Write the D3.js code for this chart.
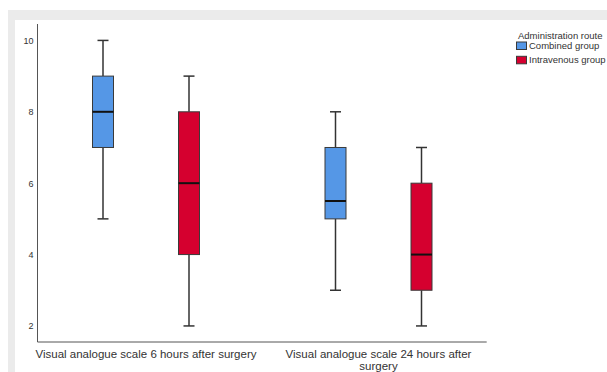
<!DOCTYPE html>
<html>
<head>
<meta charset="utf-8">
<script src="https://cdn.jsdelivr.net/npm/d3@7"></script>
<style>
  html, body { margin: 0; padding: 0; background: #fff; }
  svg { display: block; font-family: "Liberation Sans", Arial, sans-serif; }
</style>
</head>
<body>
<svg id="chart" width="607" height="372"></svg>
<script>
// Pain scores by time point and administration route (box-plot summaries)
const categories = ["Visual analogue scale 6 hours after surgery", "Visual analogue scale 24 hours after surgery"];
const groups = ["Combined group", "Intravenous group"];
const groupColors = ["#5597e6", "#d5002f"];
// [min, Q1, median, Q3, max] per category for each group
const combinedStats = [[5, 7, 8, 9, 10], [3, 5, 5.5, 7, 8]];
const intravenousStats = [[2, 4, 6, 8, 9], [2, 3, 4, 6, 7]];
const yTicks = [2, 4, 6, 8, 10];
const legendTitle = "Administration route";

const svg = d3.select("#chart");
const W = 607, H = 372;

// Outer frame
svg.append("rect").attr("x", 8).attr("y", 10).attr("width", W - 8).attr("height", H - 10).attr("fill", "#ebebeb");
svg.append("rect").attr("x", 15).attr("y", 20).attr("width", W - 15).attr("height", H - 20).attr("fill", "#ffffff");

const axisLeft = 37.5, axisRight = 486.7, axisTop = 24, axisBottom = 342;

const y = d3.scaleLinear().domain([1.55, 10.46]).range([axisBottom, axisTop]);
const x = d3.scaleBand().domain(categories).range([29.75, 494.75]);
const xg = d3.scaleBand().domain(groups).range([-86, 86]).paddingInner(0).paddingOuter(0);
const boxW = 21, capW = 11;

// Axes
svg.append("line").attr("x1", axisLeft).attr("x2", axisLeft).attr("y1", axisTop).attr("y2", axisBottom)
  .attr("stroke", "#555").attr("stroke-width", 1);
svg.append("line").attr("x1", axisLeft).attr("x2", axisRight).attr("y1", axisBottom).attr("y2", axisBottom)
  .attr("stroke", "#555").attr("stroke-width", 1);

const yAxis = d3.axisLeft(y).tickValues(yTicks).tickSize(0).tickPadding(4);
const yg = svg.append("g").attr("transform", `translate(${axisLeft},0)`).call(yAxis);
yg.select(".domain").remove();
yg.selectAll("text").attr("font-size", 9).attr("fill", "#333").attr("font-family", "Liberation Sans, Arial, sans-serif");

// Category labels, wrapped by measured width
const xAxis = d3.axisBottom(x).tickSize(0).tickPadding(0);
const xgAxis = svg.append("g").attr("transform", `translate(0,${axisBottom})`).call(xAxis);
xgAxis.select(".domain").remove();
const maxLabelW = 224;
xgAxis.selectAll("text").each(function(d) {
  const t = d3.select(this);
  t.text(null).attr("font-size", 11.5).attr("fill", "#333").attr("font-family", "Liberation Sans, Arial, sans-serif")
    .attr("y", 0).attr("dy", null);
  const words = d.split(" ");
  let line = [];
  let lineNo = 0;
  let tspan = t.append("tspan").attr("x", 0).attr("y", 16);
  words.forEach(w => {
    line.push(w);
    tspan.text(line.join(" "));
    if (tspan.node().getComputedTextLength() > maxLabelW && line.length > 1) {
      line.pop();
      tspan.text(line.join(" "));
      line = [w];
      lineNo += 1;
      tspan = t.append("tspan").attr("x", 0).attr("y", 16 + lineNo * 11.5).text(w);
    }
  });
});

// Boxes
const seriesData = [combinedStats, intravenousStats];
groups.forEach((g, gi) => {
  categories.forEach((c, ci) => {
    const [mn, q1, md, q3, mx] = seriesData[gi][ci];
    const cx = x(c) + x.bandwidth() / 2 + xg(g) + xg.bandwidth() / 2;
    const gEl = svg.append("g");
    // whiskers
    gEl.append("line").attr("x1", cx).attr("x2", cx).attr("y1", y(mx)).attr("y2", y(q3))
      .attr("stroke", "#333").attr("stroke-width", 1.5);
    gEl.append("line").attr("x1", cx).attr("x2", cx).attr("y1", y(q1)).attr("y2", y(mn))
      .attr("stroke", "#333").attr("stroke-width", 1.5);
    gEl.append("line").attr("x1", cx - capW / 2).attr("x2", cx + capW / 2).attr("y1", y(mx)).attr("y2", y(mx))
      .attr("stroke", "#333").attr("stroke-width", 1.5);
    gEl.append("line").attr("x1", cx - capW / 2).attr("x2", cx + capW / 2).attr("y1", y(mn)).attr("y2", y(mn))
      .attr("stroke", "#333").attr("stroke-width", 1.5);
    // box
    gEl.append("rect").attr("x", cx - boxW / 2).attr("y", y(q3)).attr("width", boxW).attr("height", y(q1) - y(q3))
      .attr("fill", groupColors[gi]).attr("stroke", "#3a3a3a").attr("stroke-width", 1);
    // median
    gEl.append("line").attr("x1", cx - boxW / 2).attr("x2", cx + boxW / 2).attr("y1", y(md)).attr("y2", y(md))
      .attr("stroke", "#111").attr("stroke-width", 2);
  });
});

// Legend
const lg = svg.append("g").attr("transform", "translate(516,0)");
lg.append("text").attr("x", 2).attr("y", 39).attr("font-size", 9.5).attr("fill", "#333").text(legendTitle);
groups.forEach((g, i) => {
  const yy = 42 + i * 14.3;
  lg.append("rect").attr("x", 0.5).attr("y", yy).attr("width", 10).attr("height", 7.5)
    .attr("fill", groupColors[i]).attr("stroke", "#3a3a3a").attr("stroke-width", 1);
  lg.append("text").attr("x", 13).attr("y", yy + 7).attr("font-size", 9.5).attr("fill", "#333").text(g);
});
</script>
</body>
</html>
